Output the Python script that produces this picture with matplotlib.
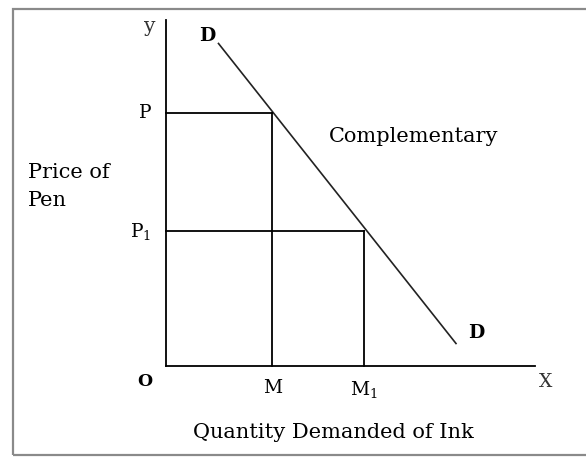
import matplotlib.pyplot as plt
from matplotlib.patches import Rectangle

plt.rcParams['font.family'] = 'DejaVu Serif'
plt.rcParams['mathtext.fontset'] = 'dejavuserif'

# datos del esquema (unidades arbitrarias)
demand_q = [1.05, 5.8]      # extremos de la curva D
demand_p = [6.45, 0.45]
qty = [2.13, 3.96]          # M, M1
price = [5.06, 2.70]        # P, P1
qty_labels = ['M', 'M$_1$']
price_labels = ['P', 'P$_1$']
x_end = 7.38
y_end = 6.92

fig = plt.figure(figsize=(5.86, 4.58), dpi=100)
ax = fig.add_axes([0, 0, 1, 1])
ax.set_xlim(-3.32, 8.4)
ax.set_ylim(-1.84, 7.32)
ax.axis('off')

# marco
fig.patches.append(Rectangle((13 / 586, 3 / 458), 1.0, 446 / 458, transform=fig.transFigure,
                             fill=False, edgecolor='#8a8a8a', linewidth=1.6))

lw = 1.3
ax.plot([0, 0], [0, y_end], color='black', lw=lw)
ax.plot([0, x_end], [0, 0], color='black', lw=lw)
ax.plot(demand_q, demand_p, color='#222222', lw=1.2)

for q, p in zip(qty, price):
    ax.plot([0, q], [p, p], color='black', lw=lw)
    ax.plot([q, q], [0, p], color='black', lw=lw)

fs = 14.5
for p, lab in zip(price, price_labels):
    ax.text(-0.3, p, lab, ha='right', va='center', fontsize=fs - 1)
for q, lab in zip(qty, qty_labels):
    ax.text(q, -0.26, lab, ha='center', va='top', fontsize=fs - 1)

ax.text(-0.32, 6.8, 'y', ha='center', va='center', fontsize=fs, color='#333333')
ax.text(-0.42, -0.32, 'O', ha='center', va='center', fontsize=fs - 2, fontweight='bold')
ax.text(7.6, -0.32, 'X', ha='center', va='center', fontsize=fs - 1, color='#333333')
ax.text(0.82, 6.6, 'D', ha='center', va='center', fontsize=fs - 1, fontweight='bold')
ax.text(6.2, 0.66, 'D', ha='center', va='center', fontsize=fs - 1, fontweight='bold')
ax.text(3.26, 4.58, 'Complementary', ha='left', va='center', fontsize=fs + 0.5)
ax.text(-2.76, 3.6, 'Price of\nPen', ha='left', va='center', fontsize=fs + 0.5, linespacing=1.6)
ax.text(3.34, -1.34, 'Quantity Demanded of Ink', ha='center', va='center', fontsize=fs + 0.5)

fig.savefig('out.png', dpi=100)
